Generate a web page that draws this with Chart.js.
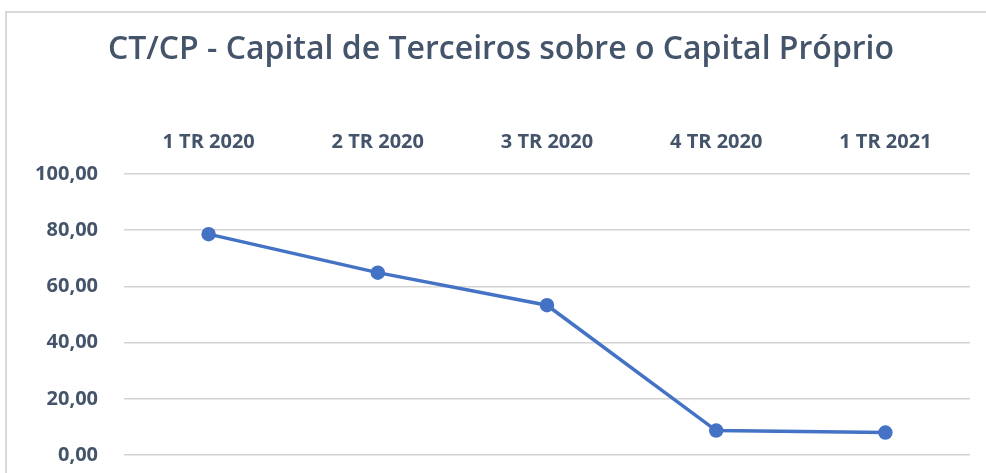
<!DOCTYPE html>
<html>
<head>
<meta charset="utf-8">
<script src="https://cdn.jsdelivr.net/npm/chart.js@4"></script>
<style>
  html, body { margin: 0; padding: 0; background: #fff; overflow: hidden; }
  .frame {
    position: absolute; left: 5px; top: 11px;
    width: 1000px; height: 500px;
    border: 2px solid #d9d9d9;
  }
  .wrap { position: absolute; left: 0; top: 0; width: 986px; height: 473px; }
</style>
</head>
<body>
<div class="frame"></div>
<div class="wrap"><canvas id="ctcpChart" width="986" height="473"></canvas></div>
<script>
const trimestres = ['1 TR 2020', '2 TR 2020', '3 TR 2020', '4 TR 2020', '1 TR 2021'];
const ctcp = [78.6, 64.9, 53.3, 8.7, 8.0];
const yTicks = [0, 20, 40, 60, 80, 100];

const azul = '#4472C4';
const cinzaTexto = '#44546A';

// altura do título (padding + linha) para o topo da área do gráfico ficar em 174px
const tituloTopo = 31, tituloBase = 10, tituloFonte = 32;
const alturaTitulo = tituloTopo + tituloFonte * 1.2 + tituloBase;

const ctx = document.getElementById('ctcpChart').getContext('2d');
new Chart(ctx, {
    type: 'line',
    data: {
        labels: trimestres,
        datasets: [{
            label: 'CT/CP',
            data: ctcp,
            borderColor: azul,
            backgroundColor: azul,
            borderWidth: 3.5,
            pointRadius: 5.5,
            pointHoverRadius: 5.5,
            tension: 0
        }]
    },
    options: {
        responsive: false,
        animation: false,
        // título centrado em ~501px: padding só à esquerda, margem direita via eixo vazio
        layout: { padding: { top: 0, right: 0, bottom: 18, left: 16 } },
        plugins: {
            legend: { display: false },
            tooltip: { enabled: false },
            title: {
                display: true,
                text: 'CT/CP - Capital de Terceiros sobre o Capital Próprio',
                color: cinzaTexto,
                font: { family: 'Open Sans', size: tituloFonte, weight: '600', lineHeight: 1.2 },
                padding: { top: tituloTopo, bottom: tituloBase }
            }
        },
        scales: {
            x: {
                position: 'top',
                offset: true,
                grid: { display: false, drawTicks: false },
                border: { display: false },
                ticks: {
                    color: cinzaTexto,
                    font: { family: 'Open Sans', size: 20, weight: 'bold', lineHeight: 1.2 },
                    padding: 20,
                    maxRotation: 0
                },
                afterFit: (scale) => { scale.height = 174 - alturaTitulo; }
            },
            y: {
                min: 0,
                max: 100,
                afterBuildTicks: (scale) => { scale.ticks = yTicks.map(v => ({ value: v })); },
                grid: { color: '#d4d4d4', lineWidth: 1.5, drawTicks: false },
                border: { display: false },
                ticks: {
                    color: cinzaTexto,
                    font: { family: 'Open Sans', size: 20, weight: 'bold' },
                    padding: 26,
                    callback: (v) => v.toFixed(2).replace('.', ',')
                },
                afterFit: (scale) => {
                    scale.width = 108;
                    scale.paddingTop = 0;
                    scale.paddingBottom = 0;
                }
            },
            margemDireita: {
                position: 'right',
                min: 0,
                max: 100,
                grid: { display: false, drawTicks: false },
                border: { display: false },
                ticks: { display: false },
                afterFit: (scale) => {
                    scale.width = 16;
                    scale.paddingTop = 0;
                    scale.paddingBottom = 0;
                }
            }
        }
    }
});
</script>
</body>
</html>
